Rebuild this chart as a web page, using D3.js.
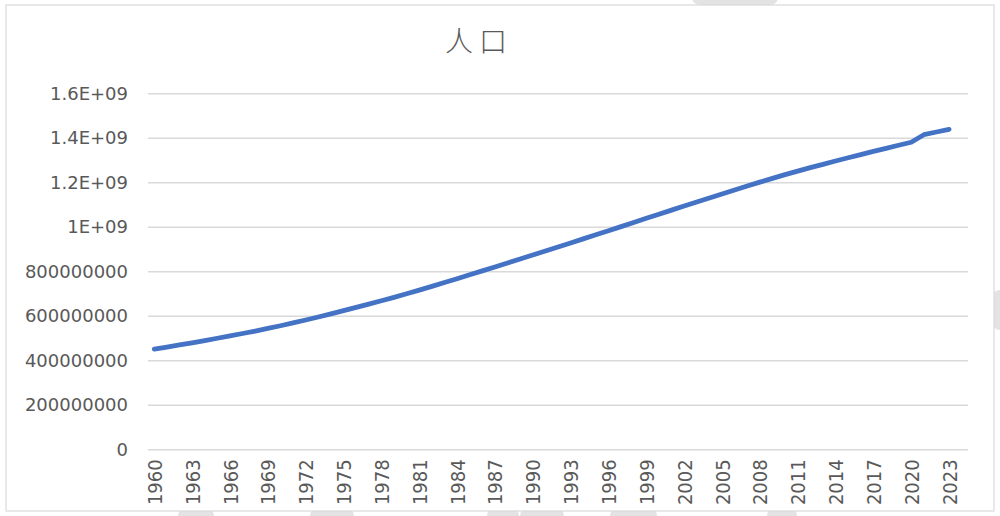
<!DOCTYPE html>
<html><head><meta charset="utf-8">
<script src="https://cdn.jsdelivr.net/npm/d3@7"></script>
<style>
html,body{margin:0;padding:0;background:#fff;}
svg{display:block;}
</style></head>
<body>
<svg id="chart" width="1000" height="516"></svg>
<script>
// ---- data ----
const years = d3.range(1960, 2025); // 2024 category present but empty
const population = [
  450547679, 459642165, 469077190, 478825608, 488848135, 499123324, 509631500, 520400576, 531513824, 543084336,
  555189792, 567868018, 581087256, 594770134, 608802600, 623102897, 637630087, 652408776, 667499806, 682995354,
  698952844, 715384993, 732239504, 749428958, 766833410, 784360008, 801975244, 819682102, 837468930, 855334678,
  873277798, 891273209, 909307016, 927403860, 945601831, 963922588, 982365243, 1000900030, 1019483581, 1038058156,
  1056575549, 1075000085, 1093317189, 1111523144, 1129623456, 1147609927, 1165486291, 1183209472, 1200669765, 1217726215,
  1234281170, 1250288729, 1265782790, 1280846129, 1295604184, 1310152403, 1324517249, 1338676785, 1352642280, 1366417754,
  1380004385, 1414000000, 1426000000, 1438000000, null
];
const yTickValues = [0, 200000000, 400000000, 600000000, 800000000, 1000000000, 1200000000, 1400000000, 1600000000];
const yTickLabels = ["0", "200000000", "400000000", "600000000", "800000000", "1E+09", "1.2E+09", "1.4E+09", "1.6E+09"];
const xTickLabels = d3.range(1960, 2024, 3).map(String);
const chartTitle = "人口";

// ---- layout ----
const svg = d3.select("#chart");
const plotL = 148, plotR = 968, plotT = 93.3, plotB = 449.3;

// decorative background fragments outside the chart frame
const deco = svg.append("g").attr("fill", "#e3e3e3");
[[692,-10,86,15],[178,508,36,20],[310,508,44,20],[487,508,32,20],[520,508,44,20],[610,508,47,20],[767,508,30,20],[992,290,20,40]]
  .forEach(d => deco.append("rect").attr("x", d[0]).attr("y", d[1]).attr("width", d[2]).attr("height", d[3]).attr("rx", 8));

svg.append("rect").attr("x", 6).attr("y", 5).attr("width", 988).attr("height", 506)
  .attr("fill", "#fff").attr("stroke", "#d9d9d9").attr("stroke-width", 1.2);

const x = d3.scalePoint().domain(years).range([plotL, plotR]).padding(0.5);
const y = d3.scaleLinear().domain([0, 1600000000]).range([plotB, plotT]);

// gridlines + y labels
const yAxis = d3.axisLeft(y).tickValues(yTickValues)
  .tickSize(-(plotR - plotL)).tickPadding(20)
  .tickFormat((d, i) => yTickLabels[i]);
const gy = svg.append("g").attr("transform", `translate(${plotL},0)`).call(yAxis);
gy.select(".domain").remove();
gy.selectAll(".tick line").attr("stroke", "#d9d9d9").attr("stroke-width", 1.5);
gy.selectAll(".tick text").attr("fill", "#595959")
  .style("font-family", "'DejaVu Sans', Verdana, sans-serif").style("font-size", "18px");

// x axis labels
const xAxis = d3.axisBottom(x).tickValues(xTickLabels.map(Number)).tickSize(0).tickFormat(d => String(d));
const gx = svg.append("g").attr("transform", `translate(0,${plotB})`).call(xAxis);
gx.select(".domain").remove();
gx.selectAll(".tick text")
  .attr("fill", "#595959")
  .style("font-family", "'Liberation Sans Narrow', 'DejaVu Sans Condensed', sans-serif")
  .style("font-size", "20px")
  .attr("transform", "rotate(-90)")
  .attr("text-anchor", "end")
  .attr("x", -10).attr("y", 0).attr("dy", "0.35em");

// line
const line = d3.line()
  .defined(d => d.v !== null)
  .x(d => x(d.year)).y(d => y(d.v));
svg.append("path")
  .datum(years.map((yr, i) => ({year: yr, v: population[i]})))
  .attr("fill", "none").attr("stroke", "#4472C4").attr("stroke-width", 4.8)
  .attr("stroke-linejoin", "round").attr("stroke-linecap", "round")
  .attr("d", line);

// title
svg.append("text").attr("x", 479).attr("y", 52).attr("text-anchor", "middle")
  .attr("fill", "#595959")
  .style("font-family", "'Noto Sans CJK SC', sans-serif").style("font-size", "28px").style("font-weight", 300)
  .style("letter-spacing", "6px")
  .text(chartTitle);
</script>
</body></html>
